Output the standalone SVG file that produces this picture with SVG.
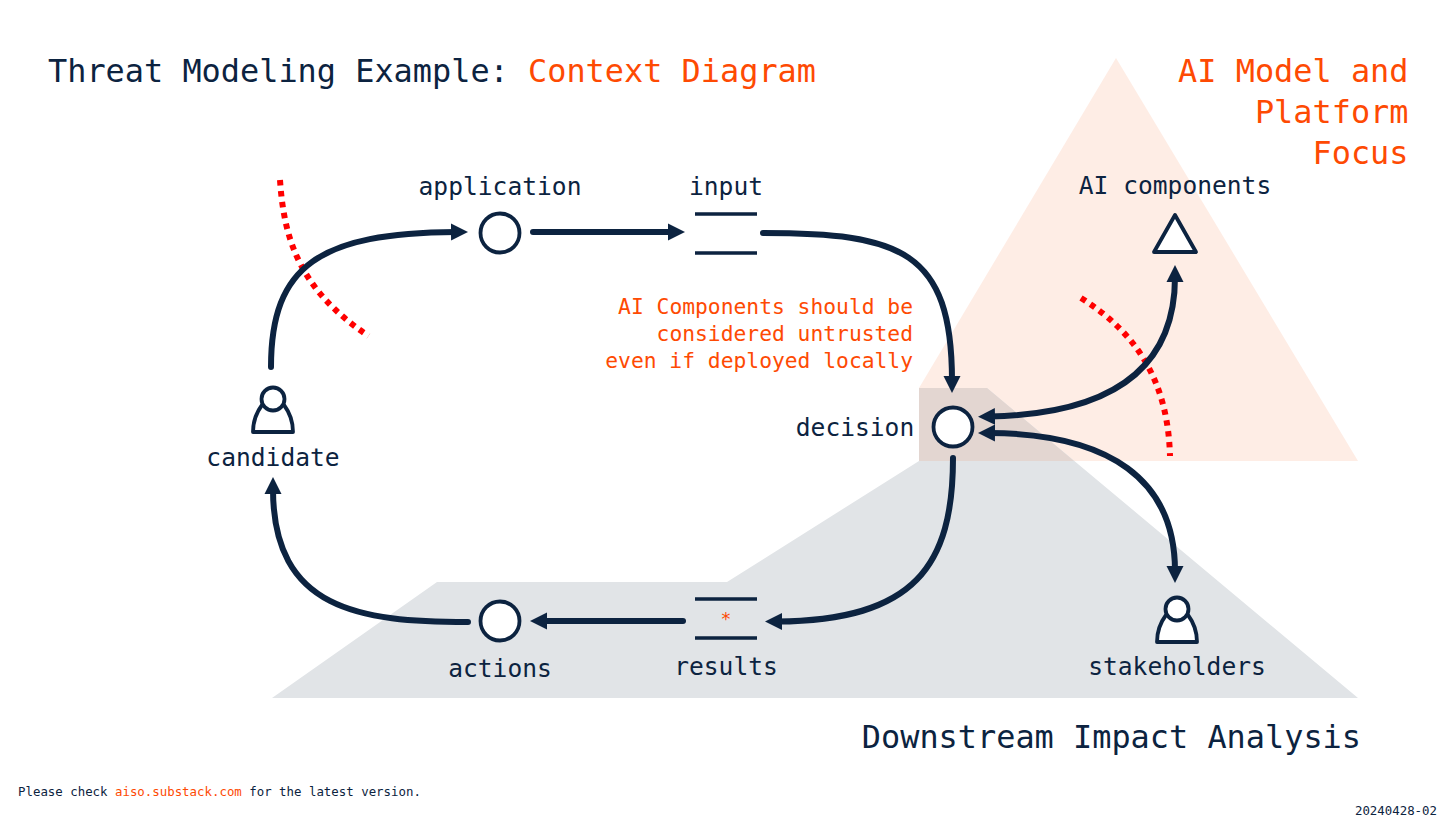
<svg xmlns="http://www.w3.org/2000/svg" width="1456" height="825" viewBox="0 0 1456 825">
<style>
text{font-family:"DejaVu Sans Mono","Liberation Mono",monospace;fill:#0c2340}
.o{fill:#fe4a03}
.t{font-size:31.9px}
.l{font-size:24.6px;text-anchor:middle}
.n{font-size:21.3px;text-anchor:end}
.f{font-size:12.4px}
.shape{fill:#fff;stroke:#0c2340;stroke-width:3.8;stroke-linejoin:round}
.bar{stroke:#0c2340;stroke-width:3.6;fill:none}
.c{fill:none;stroke:#0c2340;stroke-width:6;stroke-linecap:round}
.r{fill:none;stroke:#ff0000;stroke-width:6;stroke-dasharray:5.5 5.5}
</style>
<defs>
<marker id="a" markerUnits="userSpaceOnUse" markerWidth="20" markerHeight="20" refX="5" refY="9" orient="auto-start-reverse"><path d="M0 0.5L17 9L0 17.5Z" fill="#0c2340"/></marker>
<g id="person"><path class="shape" d="M-20 22C-20 12-17 3-11 -5L11 -5C17 3 20 12 20 22Z"/><circle class="shape" cx="0" cy="-11" r="11.5"/></g>
</defs>
<rect width="1456" height="825" fill="#fff"/>
<g id="zones">
<polygon points="1116,58 1358,461 919,461 919,388" fill="#feede5"/>
<polygon points="919,388 987,388 1358,698 272,698 437,582 727,582 919,461" fill="#e1e4e7"/>
<polygon points="919,388 987,388 1074,461 919,461" fill="#e3d6d1"/>
</g>
<g id="boundaries">
<path class="r" d="M280 180C284 240 300 290 368.500 336"/>
<path class="r" d="M1081 298C1140 335 1168 385 1170 456"/>
</g>
<g id="connectors">
<path class="c" marker-end="url(#a)" d="M271 367C271 265 320 233 456 232"/>
<path class="c" marker-end="url(#a)" d="M533 232H673"/>
<path class="c" marker-end="url(#a)" d="M763 233C900 233 952 250 952 381"/>
<path class="c" marker-start="url(#a)" marker-end="url(#a)" d="M990 416.500C1110 414 1175 370 1175 277"/>
<path class="c" marker-start="url(#a)" marker-end="url(#a)" d="M990 433C1110 434 1175 480 1175 571"/>
<path class="c" marker-end="url(#a)" d="M953 458C953 565 915 621 777 621.500"/>
<path class="c" marker-end="url(#a)" d="M683 621H542"/>
<path class="c" marker-end="url(#a)" d="M468 622C360 622 273 610 273 489"/>
</g>
<g id="title"><text class="t" x="48" y="82">Threat Modeling Example: <tspan class="o">Context Diagram</tspan></text></g>
<g id="focus"><text class="t o" text-anchor="end" x="1408.500" y="82">AI Model and</text><text class="t o" text-anchor="end" x="1408.500" y="123">Platform</text><text class="t o" text-anchor="end" x="1408.500" y="164">Focus</text></g>
<g id="note"><text class="n o" x="913" y="314">AI Components should be</text><text class="n o" x="913" y="341">considered untrusted</text><text class="n o" x="913" y="368">even if deployed locally</text></g>
<g id="candidate"><use href="#person" x="273" y="410"/><text class="l" x="273" y="466">candidate</text></g>
<g id="application"><circle class="shape" cx="500" cy="233" r="19.500"/><text class="l" x="500" y="195">application</text></g>
<g id="input"><path class="bar" d="M695 214H757M695 253H757"/><text class="l" x="726" y="195">input</text></g>
<g id="decision"><circle class="shape" cx="953" cy="427" r="19.500"/><text class="l" x="855" y="436">decision</text></g>
<g id="ai-components"><polygon class="shape" points="1175,215 1196,252 1154,252"/><text class="l" x="1175" y="194">AI components</text></g>
<g id="stakeholders"><use href="#person" x="1177" y="620"/><text class="l" x="1177" y="675">stakeholders</text></g>
<g id="results"><path class="bar" d="M695 599H757M695 638H757"/><text class="o" font-size="18" text-anchor="middle" x="726" y="624.500">*</text><text class="l" x="726" y="675">results</text></g>
<g id="actions"><circle class="shape" cx="500" cy="621" r="19.500"/><text class="l" x="500" y="677">actions</text></g>
<text class="t" text-anchor="end" x="1361" y="748">Downstream Impact Analysis</text>
<text class="f" x="18" y="796">Please check <tspan class="o">aiso.substack.com</tspan> for the latest version.</text>
<text class="f" text-anchor="end" x="1437" y="815">20240428-02</text>
</svg>
